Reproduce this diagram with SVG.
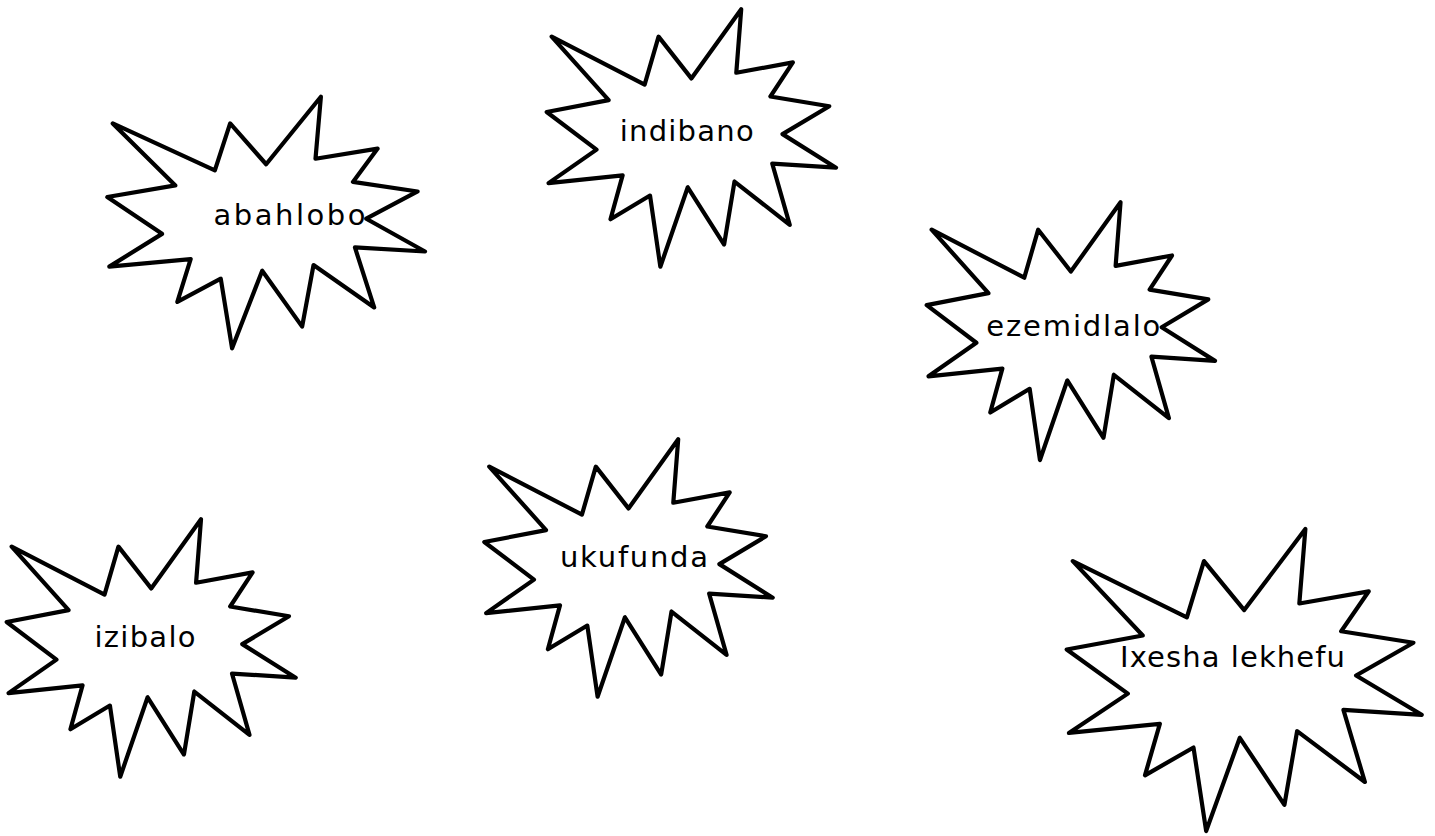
<svg xmlns="http://www.w3.org/2000/svg" xmlns:xlink="http://www.w3.org/1999/xlink" width="1435" height="836" viewBox="0 0 1435 836">
<style>
.seal{fill:#fff;stroke:#000;stroke-width:4.2;stroke-linejoin:round;vector-effect:non-scaling-stroke}
.lbl{font-family:"DejaVu Sans","Liberation Sans",sans-serif;font-size:29px;fill:#000;text-anchor:middle}
</style>
<defs>
<path id="seal" class="seal" d="M10800 5800 L14522 0 L14155 5325 L18380 4457 L16702 7315 L21097 8137 L17607 10475 L21600 13290 L16837 12942 L18145 18095 L14020 14457 L13247 19737 L10532 14935 L8485 21600 L7715 15627 L4762 17617 L5667 13937 L135 14587 L3722 11775 L0 8615 L4627 7617 L370 2295 L7312 6320 L8352 2295 Z"/>
</defs>
<rect width="1435" height="836" fill="#fff"/>
<g id="connectors"></g>
<g id="node-abahlobo">
<use href="#seal" xlink:href="#seal" transform="translate(107.3 96.7) scale(0.014708 0.011648)"/>
<text class="lbl" x="289.5" y="224.5" textLength="152">abahlobo</text>
</g>
<g id="node-indibano">
<use href="#seal" xlink:href="#seal" transform="translate(546.7 9.3) scale(0.013394 0.011917)"/>
<text class="lbl" x="686.7" y="141" textLength="134">indibano</text>
</g>
<g id="node-ezemidlalo">
<use href="#seal" xlink:href="#seal" transform="translate(926.7 202.3) scale(0.013347 0.011931)"/>
<text class="lbl" x="1073.3" y="336" textLength="174">ezemidlalo</text>
</g>
<g id="node-izibalo">
<use href="#seal" xlink:href="#seal" transform="translate(6.7 519.3) scale(0.013380 0.011917)"/>
<text class="lbl" x="145" y="646.5" textLength="101">izibalo</text>
</g>
<g id="node-ukufunda">
<use href="#seal" xlink:href="#seal" transform="translate(484.3 439.3) scale(0.013352 0.011917)"/>
<text class="lbl" x="634" y="566.7" textLength="148">ukufunda</text>
</g>
<g id="node-ixesha-lekhefu">
<use href="#seal" xlink:href="#seal" transform="translate(1066.7 529) scale(0.016435 0.013981)"/>
<text class="lbl" x="1232.5" y="667" textLength="225">Ixesha lekhefu</text>
</g>
</svg>
